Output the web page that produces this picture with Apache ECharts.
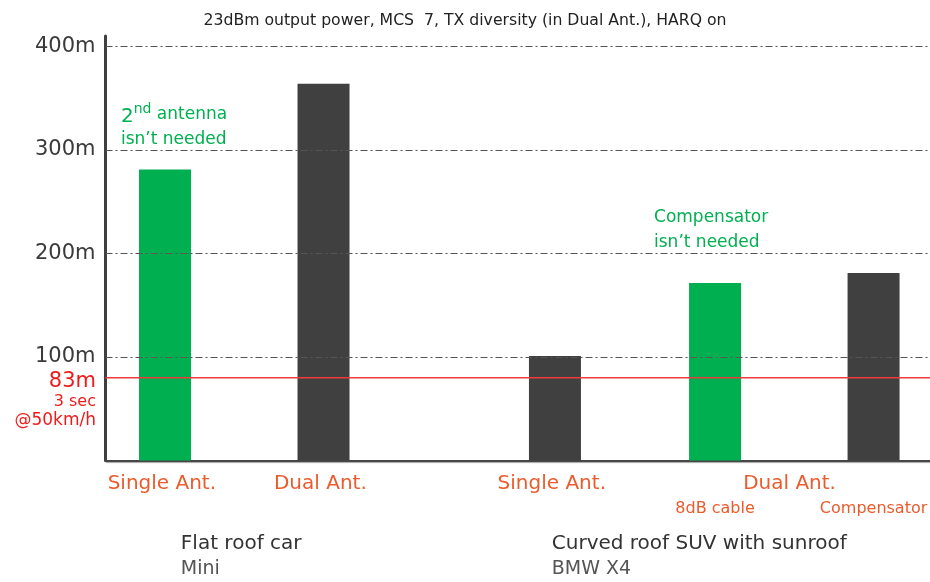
<!DOCTYPE html>
<html><head><meta charset="utf-8">
<script src="https://cdn.jsdelivr.net/npm/echarts@6/dist/echarts.min.js"></script>
<style>html,body{margin:0;padding:0;background:#fff}#c{width:930px;height:582px}</style>
</head><body><div id="c"></div>
<script>
// ---- data ----
const title = '23dBm output power, MCS  7, TX diversity (in Dual Ant.), HARQ on';
const barXPositions = [1, 2, 3.46, 4.47, 5.47];
const barValues = [281, 364, 101, 171.5, 181];
const barKinds = ['single', 'dual', 'dual', 'single', 'dual'];
const yTicks = [100, 200, 300, 400];
const yMax = 410;
const refLineValue = 80;
const refLabels = ['83m', '3 sec', '@50km/h'];
const catLabels = ['Single Ant.', 'Dual Ant.', 'Single Ant.', 'Dual Ant.'];
const catLabelX = [0.98, 1.98, 3.44, 4.94];
const subLabels = ['8dB cable', 'Compensator'];
const subLabelX = [4.47, 5.47];
const groupTitles = ['Flat roof car', 'Curved roof SUV with sunroof'];
const groupSubtitles = ['Mini', 'BMW X4'];
const groupX = [1.10, 3.44];
const notes = [
  {x: 0.722, y: 346, lines: ['{sup|2}{sup2|nd} antenna', 'isn\u2019t needed']},
  {x: 4.085, y: 247, lines: ['Compensator', 'isn\u2019t needed']}
];

const GREEN = '#00B050', DARK = '#404040', ORANGE = '#EB5B2C', RED = '#F01A1A', REFLINE = '#EE3A3A';
const FONT = '"DejaVu Sans"';

const chart = echarts.init(document.getElementById('c'), null, {renderer: 'canvas'});
const xMin = 0.6246, xMax = 5.826;

chart.setOption({
  animation: false,
  textStyle: {fontFamily: FONT},
  title: {text: title, left: 'center', top: 8, textStyle: {fontFamily: FONT, fontSize: 15.7, fontWeight: 'normal', color: '#222'}},
  grid: {left: 105.5, right: 0, top: 36, bottom: 121.5},
  xAxis: {type: 'value', min: xMin, max: xMax,
    axisLine: {show: true, onZero: false, lineStyle: {color: '#474747', width: 2, shadowColor: 'rgba(0,0,0,0.35)', shadowOffsetY: 1, shadowOffsetX: 1, shadowBlur: 1}},
    axisTick: {show: false}, axisLabel: {show: false}, splitLine: {show: false}},
  yAxis: {type: 'value', min: 0, max: yMax, interval: 100,
    axisLine: {show: true, lineStyle: {color: '#3f3f3f', width: 3}},
    axisTick: {show: false}, splitLine: {show: false},
    axisLabel: {margin: 10, fontFamily: FONT, fontSize: 21, color: '#3a3a3a',
      formatter: v => (yTicks.indexOf(v) >= 0 ? v + 'm' : '')}},
  series: [
    {type: 'line', data: [], z: 1, silent: true, color: '#555',
     markLine: {symbol: 'none', silent: true, label: {show: false},
       lineStyle: {type: [7, 3, 2, 3], color: '#555', width: 1},
       data: yTicks.map(v => ({yAxis: v}))}},
    {type: 'bar', z: 2, barWidth: 52,
     data: barXPositions.map((x, i) => ({value: [x, barValues[i]], itemStyle: {color: barKinds[i] === 'single' ? GREEN : DARK}}))},
    {type: 'line', z: 5, silent: true, symbol: 'none', color: REFLINE,
     lineStyle: {color: REFLINE, width: 1.5, type: 'solid'},
     data: [[xMin, refLineValue], [xMax, refLineValue]]}
  ]
});

function px(x, y) { return chart.convertToPixel({xAxisIndex: 0, yAxisIndex: 0}, [x, y]); }
const graphics = [];
const axisY = px(xMin, 0)[1];
catLabels.forEach((t, i) => {
  graphics.push({type: 'text', x: px(catLabelX[i], 0)[0], y: axisY + 23,
    style: {text: t, fill: ORANGE, font: '20px ' + FONT, textAlign: 'center', textVerticalAlign: 'middle'}});
});
subLabels.forEach((t, i) => {
  graphics.push({type: 'text', x: px(subLabelX[i], 0)[0], y: axisY + 48,
    style: {text: t, fill: ORANGE, font: '16px ' + FONT, textAlign: 'center', textVerticalAlign: 'middle'}});
});
groupTitles.forEach((t, i) => {
  const gx = px(groupX[i], 0)[0];
  graphics.push({type: 'text', x: gx, y: axisY + 83,
    style: {text: t, fill: '#333', font: '20px ' + FONT, textAlign: 'left', textVerticalAlign: 'middle'}});
  graphics.push({type: 'text', x: gx, y: axisY + 109,
    style: {text: groupSubtitles[i], fill: '#555', font: '19px ' + FONT, textAlign: 'left', textVerticalAlign: 'middle'}});
});
const refY = px(xMin, refLineValue)[1];
const refSizes = [21, 16, 17];
const refDy = [4, 24, 43];
refLabels.forEach((t, i) => {
  graphics.push({type: 'text', x: 96, y: refY + refDy[i],
    style: {text: t, fill: RED, font: refSizes[i] + 'px ' + FONT, textAlign: 'right', textVerticalAlign: 'middle'}});
});
notes.forEach(n => {
  const p = px(n.x, n.y);
  graphics.push({type: 'text', x: p[0], y: p[1],
    style: {text: n.lines.join('\n'), fill: GREEN, font: '17px ' + FONT, lineHeight: 25,
      textAlign: 'left', textVerticalAlign: 'top',
      rich: {sup: {fontSize: 20, fill: GREEN, fontFamily: FONT, verticalAlign: 'bottom'},
             sup2: {fontSize: 14, fill: GREEN, fontFamily: FONT, verticalAlign: 'top', padding: [0, 0, 8, 0]}}}});
});
chart.setOption({graphic: graphics});
</script>
</body></html>
